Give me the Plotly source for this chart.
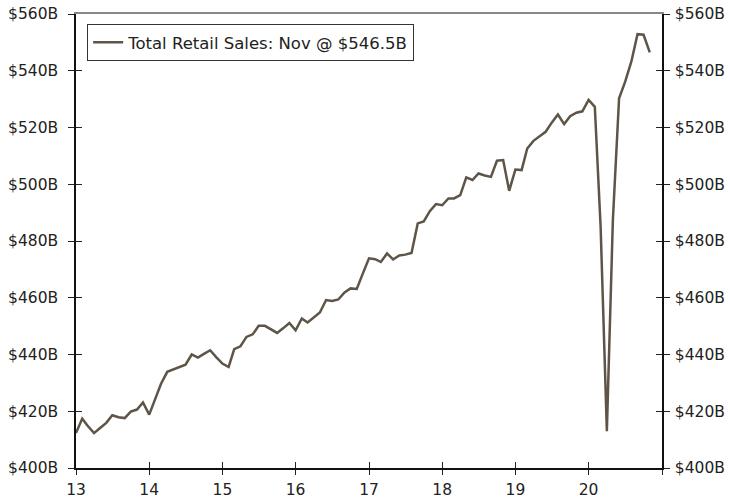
import pandas as pd
import plotly.graph_objects as go

# monthly total retail sales, $B, Jan 2013 .. Nov 2020
sales_2013 = [412.3, 417.4, 414.8, 412.3, 414.1, 415.9, 418.6, 417.9, 417.6, 419.9, 420.6, 423.1]
sales_2014 = [418.8, 424.8, 429.7, 433.9, 434.7, 435.6, 436.4, 440.0, 438.9, 440.2, 441.5, 439.1]
sales_2015 = [436.8, 435.6, 441.9, 442.9, 446.2, 447.1, 450.1, 450.1, 448.7, 447.6, 449.3, 451.1]
sales_2016 = [448.5, 452.7, 451.3, 453.0, 454.8, 459.2, 458.9, 459.4, 461.9, 463.3, 463.1, 468.5]
sales_2017 = [473.9, 473.6, 472.6, 475.6, 473.5, 474.9, 475.2, 475.8, 486.2, 486.9, 490.6, 493.0]
sales_2018 = [492.6, 495.0, 495.0, 496.2, 502.4, 501.5, 503.8, 503.1, 502.6, 508.3, 508.5, 497.7]
sales_2019 = [505.2, 505.0, 512.6, 515.3, 517.0, 518.5, 521.7, 524.6, 521.2, 524.0, 525.2, 525.7]
sales_2020 = [529.7, 527.3, 485.0, 413.0, 487.3, 530.3, 536.1, 543.2, 552.9, 552.7, 546.5]

sales = (sales_2013 + sales_2014 + sales_2015 + sales_2016 +
         sales_2017 + sales_2018 + sales_2019 + sales_2020)
months = pd.date_range('2013-01-01', periods=len(sales), freq='MS')

year_ticks = [f'{y}-01-01' for y in range(2013, 2022)]
year_labels = ['13', '14', '15', '16', '17', '18', '19', '20', '']
y_ticks = list(range(400, 561, 20))
y_labels = [f'${v}B' for v in y_ticks]

LINE = '#5E5447'
FAM = 'DejaVu Sans, Verdana, sans-serif'
FONT = dict(family=FAM, size=15.5, color='#222222')
XR = ['2013-01-01', '2021-01-01']
YR = [400, 560]

fig = go.Figure(go.Scatter(
    x=months, y=sales, mode='lines',
    name='Total Retail Sales: Nov @ $546.5B',
    line=dict(color=LINE, width=2.5),
))

# axes: outside ticks with labels + overlaid inside ticks so the ticks cross the lines
xbase = dict(range=XR, type='date', tickvals=year_ticks, showgrid=False,
             zeroline=False, automargin=False)
ybase = dict(range=YR, tickvals=y_ticks, showgrid=False, zeroline=False,
             automargin=False)

fig.update_layout(
    width=730, height=500,
    paper_bgcolor='white', plot_bgcolor='white',
    font=FONT,
    margin=dict(l=76, r=68, t=14, b=32, autoexpand=False),
    xaxis=dict(**xbase, ticktext=year_labels, ticks='outside', ticklen=5,
               ticklabelstandoff=2,
               tickcolor='#222', showline=True, linecolor='#111', linewidth=1.5),
    xaxis2=dict(**xbase, overlaying='x', side='bottom', anchor='y', ticks='inside',
                ticklen=6, tickcolor='#222', showticklabels=False),
    xaxis3=dict(**xbase, overlaying='x', side='top', anchor='y', ticks='',
                showticklabels=False, showline=True, linecolor='#888', linewidth=1.5),
    yaxis=dict(**ybase, ticktext=y_labels, ticks='outside', ticklen=6,
               ticklabelstandoff=7,
               tickcolor='#222', showline=True, linecolor='#111', linewidth=1.5),
    yaxis2=dict(**ybase, ticktext=y_labels, overlaying='y', side='right', anchor='x',
                ticks='outside', ticklen=6, tickcolor='#222', ticklabelstandoff=2,
                showline=True, linecolor='#111', linewidth=1.5),
    yaxis3=dict(**ybase, overlaying='y', side='left', anchor='x', ticks='inside',
                ticklen=6, tickcolor='#222', showticklabels=False),
    yaxis4=dict(**ybase, overlaying='y', side='right', anchor='x', ticks='inside',
                ticklen=6, tickcolor='#222', showticklabels=False),
    legend=dict(x=0.019, y=0.978, xanchor='left', yanchor='top',
                bgcolor='white', bordercolor='#333', borderwidth=1,
                font=dict(family=FAM, size=16.5, color='#222'),
                itemwidth=30, tracegroupgap=0),
    showlegend=True,
)

# invisible helper traces so the overlay axes are drawn
for xa, ya in [('x2', 'y'), ('x3', 'y'), ('x', 'y2'), ('x', 'y3'), ('x', 'y4')]:
    fig.add_trace(go.Scatter(x=[months[0]], y=[sales[0]], xaxis=xa, yaxis=ya,
                             mode='markers', marker=dict(opacity=0),
                             showlegend=False, hoverinfo='skip'))

# drop the default 8px page margin so the 730x500 figure fills the window
fig.write_html('out.html', config={'displayModeBar': False},
               post_script="document.body.style.margin='0';document.body.style.overflow='hidden';")
